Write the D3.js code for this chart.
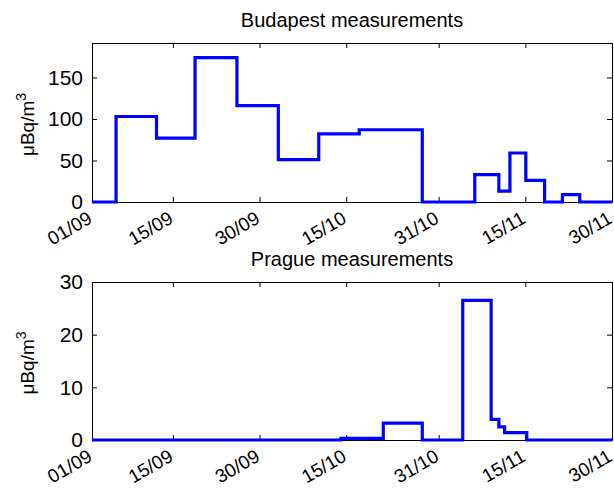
<!DOCTYPE html>
<html>
<head>
<meta charset="utf-8">
<script src="https://cdn.jsdelivr.net/npm/d3@7"></script>
<style>
  body { margin: 0; background: #fff; }
  text { font-family: "Liberation Sans", Arial, sans-serif; fill: #000; }
</style>
</head>
<body>
<script>
// step data: each value holds from its date until the next date
const budapestDates = ['2011-09-01 00', '2011-09-05 04', '2011-09-12 04', '2011-09-18 20', '2011-09-26 02',
  '2011-10-03 06', '2011-10-10 06', '2011-10-17 06', '2011-10-28 04', '2011-11-06 06', '2011-11-10 10',
  '2011-11-12 08', '2011-11-15 02', '2011-11-18 08', '2011-11-21 10', '2011-11-24 10', '2011-11-30 00'];
const budapestValues = [0, 103, 77, 174, 116, 51, 82, 87, 0, 33, 13, 59, 26, 0, 9, 0, 0];

const pragueDates = ['2011-09-01 00', '2011-10-14 02', '2011-10-21 10', '2011-10-28 04', '2011-11-04 04',
  '2011-11-09 02', '2011-11-10 10', '2011-11-11 10', '2011-11-15 06', '2011-11-30 00'];
const pragueValues = [0, 0.3, 3.2, 0, 26.5, 3.9, 2.5, 1.4, 0, 0];

const tickDates = ['2011-09-01 00', '2011-09-15 00', '2011-09-30 00', '2011-10-15 00', '2011-10-31 00', '2011-11-15 00', '2011-11-30 00'];

const W = 614, H = 489;
const parse = d3.timeParse('%Y-%m-%d %H');

const svg = d3.select('body').append('svg')
  .attr('width', W)
  .attr('height', H);

const x = d3.scaleTime()
  .domain([parse('2011-09-01 00'), parse('2011-11-30 00')])
  .range([92, 612]);

function panel(title, dates, values, yMax, yTicks, top, bottom) {
  const y = d3.scaleLinear().domain([0, yMax]).range([bottom, top]);
  const g = svg.append('g');

  // box + inward ticks on all four sides
  g.append('g')
    .attr('transform', `translate(0,${bottom})`)
    .call(d3.axisBottom(x).tickValues(tickDates.map(parse)).tickFormat(d3.timeFormat('%d/%m'))
      .tickSizeInner(-5).tickSizeOuter(0))
    .call(a => a.selectAll('text')
      .attr('y', 0).attr('dy', null)
      .attr('text-anchor', 'end')
      .attr('font-size', 19)
      .attr('transform', 'translate(1,20) rotate(-30)'));

  g.append('g')
    .attr('transform', `translate(0,${top})`)
    .call(d3.axisTop(x).tickValues(tickDates.map(parse)).tickFormat('')
      .tickSizeInner(-5).tickSizeOuter(0));

  g.append('g')
    .attr('transform', 'translate(92,0)')
    .call(d3.axisLeft(y).tickValues(yTicks).tickSizeInner(-5).tickSizeOuter(0).tickPadding(9))
    .call(a => a.selectAll('text').attr('font-size', 21));

  g.append('g')
    .attr('transform', 'translate(612,0)')
    .call(d3.axisRight(y).tickValues(yTicks).tickFormat('').tickSizeInner(-5).tickSizeOuter(0));

  g.selectAll('.domain').attr('stroke', '#000');
  g.selectAll('.tick line').attr('stroke', '#000');

  g.append('text')
    .attr('x', (92 + 612) / 2)
    .attr('y', top - 16)
    .attr('text-anchor', 'middle')
    .attr('font-size', 20)
    .text(title);

  const lab = g.append('text')
    .attr('transform', `translate(34,${(top + bottom) / 2 + 2}) rotate(-90)`)
    .attr('text-anchor', 'middle')
    .attr('font-size', 19);
  lab.append('tspan').text('μBq/m');
  lab.append('tspan').attr('font-size', 14).attr('dy', -8).text('3');

  const line = d3.line()
    .x((d, i) => x(parse(dates[i])))
    .y(d => y(d))
    .curve(d3.curveStepAfter);

  g.append('path')
    .datum(values)
    .attr('fill', 'none')
    .attr('stroke', '#0000ff')
    .attr('stroke-width', 3.2)
    .attr('d', line);
}

panel('Budapest measurements', budapestDates, budapestValues, 191.5, [0, 50, 100, 150], 43, 202);
panel('Prague measurements', pragueDates, pragueValues, 30, [0, 10, 20, 30], 282, 440);
</script>
</body>
</html>
